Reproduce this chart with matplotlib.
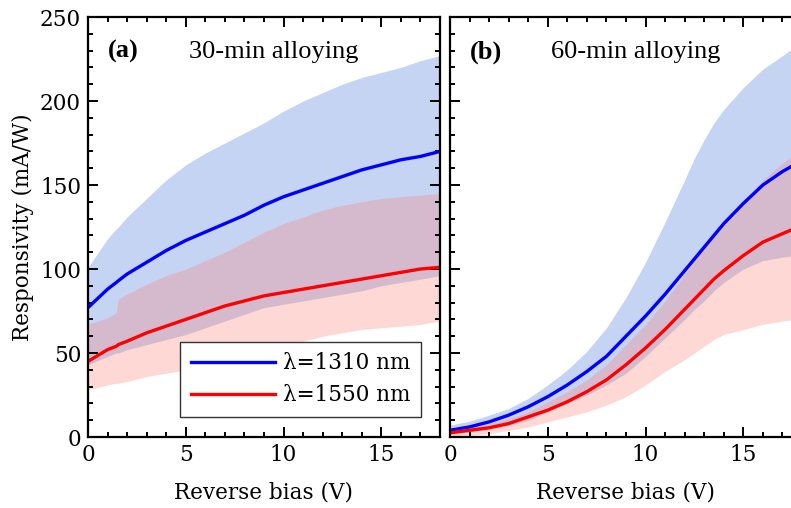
import numpy as np
import matplotlib
matplotlib.use("Agg")
import matplotlib.pyplot as plt
from matplotlib.ticker import MultipleLocator

# ---- data: panel (a) 30-min alloying ----
xa = [0, 1, 1.45, 1.55, 2, 3, 4, 5, 6, 7, 8, 9, 10, 11, 12, 13, 14, 15, 16, 17, 18]
a_blue =       [77, 88, 92, 93, 97, 104, 111, 117, 122, 127, 132, 138, 143, 147, 151, 155, 159, 162, 165, 167, 170]
a_blue_hi =    [101, 118, 124, 125, 131, 142, 153, 162, 169, 175, 181, 187, 194, 200, 205, 210, 214, 217, 220, 224, 227]
a_blue_lo =    [43, 48, 50, 50, 52, 55, 58, 61, 65, 69, 73, 77, 79, 81, 83, 85, 87, 90, 92, 94, 96]
a_red =        [45, 52, 54, 55, 57, 62, 66, 70, 74, 78, 81, 84, 86, 88, 90, 92, 94, 96, 98, 100, 101]
a_red_hi =     [67, 71, 74, 82, 85, 91, 96, 100, 105, 110, 116, 122, 127, 131, 135, 138, 140, 142, 143, 144, 145]
a_red_lo =     [28, 31, 32, 32, 33, 36, 38, 40, 43, 46, 49, 52, 55, 57, 60, 62, 64, 65, 66, 67, 69]

# ---- data: panel (b) 60-min alloying ----
xb = [0, 1, 2, 3, 4, 5, 6, 7, 8, 9, 10, 11, 12, 12.5, 13, 13.5, 14, 15, 16, 17, 17.6]
b_blue =       [4, 6, 9, 13, 18, 24, 31, 39, 48, 60, 72, 85, 99, 106, 113, 120, 127, 139, 150, 158, 162]
b_blue_hi =    [7, 9.5, 13, 17, 23, 31, 40, 51, 65, 83, 104, 128, 153, 166, 177, 187, 195, 208, 219, 227, 232]
b_blue_lo =    [2, 3, 5, 7, 10, 15, 20, 25, 31, 38, 48, 59, 70, 76, 81, 87, 92, 100, 105, 107, 108]
b_red =        [2.5, 4, 5.5, 8, 12, 16, 21, 27, 34, 43, 53, 64, 76, 82, 88, 94, 99, 108, 116, 121, 124]
b_red_hi =     [4, 5.5, 8, 11, 15, 21, 27, 34, 43, 55, 67, 81, 97, 105, 113, 120, 126, 139, 153, 163, 168]
b_red_lo =     [0, 1, 2, 4, 6, 9, 12, 15, 19, 24, 31, 39, 46, 50, 54, 58, 61, 64, 67, 69, 70]

labels = ["\u03bb=1310 nm", "\u03bb=1550 nm"]
titles = ["30-min alloying", "60-min alloying"]
tags = ["(a)", "(b)"]
xticks = [0, 5, 10, 15]
yticks = [0, 50, 100, 150, 200, 250]

W, H = 791, 508
fig = plt.figure(figsize=(W / 100, H / 100), dpi=100)
tickfont = "DejaVu Serif"
fs = 15.5

ax1 = fig.add_axes([88 / W, (H - 437) / H, 352 / W, 420 / H])
ax2 = fig.add_axes([450 / W, (H - 437) / H, 352 / W, 420 / H])

blue_fill = (0.25, 0.45, 0.85)
red_fill = (0.98, 0.50, 0.45)

def panel(ax, x, bl, bh, blo, rl, rh, rlo):
    ax.fill_between(x, blo, bh, color=blue_fill, alpha=0.3, lw=0)
    ax.fill_between(x, rlo, rh, color=red_fill, alpha=0.3, lw=0)
    l1, = ax.plot(x, bl, color="#0000ff", lw=2.4, label=labels[0])
    l2, = ax.plot(x, rl, color="#ff0000", lw=2.4, label=labels[1])
    ax.set_xlim(0, 18)
    ax.set_ylim(0, 250)
    ax.set_xticks(xticks)
    ax.set_yticks(yticks)
    ax.xaxis.set_minor_locator(MultipleLocator(1))
    ax.yaxis.set_minor_locator(MultipleLocator(10))
    ax.tick_params(which="both", direction="in", top=True, right=True, width=1.4)
    ax.tick_params(which="major", length=7, labelsize=fs, pad=5)
    ax.tick_params(which="minor", length=3.8)
    for s in ax.spines.values():
        s.set_linewidth(1.6)
    for t in ax.get_xticklabels() + ax.get_yticklabels():
        t.set_fontfamily(tickfont)
    ax.set_xlabel("Reverse bias (V)", fontsize=fs, family=tickfont, labelpad=11)
    return l1, l2

h = panel(ax1, xa, a_blue, a_blue_hi, a_blue_lo, a_red, a_red_hi, a_red_lo)
panel(ax2, xb, b_blue, b_blue_hi, b_blue_lo, b_red, b_red_hi, b_red_lo)
ax2.tick_params(labelleft=False)
ax1.set_ylabel("Responsivity (mA/W)", fontsize=fs, family=tickfont, labelpad=4)

for ax, tag, title in [(ax1, tags[0], titles[0]), (ax2, tags[1], titles[1])]:
    ax.text(0.057, 0.917, tag, transform=ax.transAxes, fontsize=19, fontweight="bold",
            family="Liberation Serif", va="center", ha="left")
    ax.text(0.287, 0.917, title, transform=ax.transAxes, fontsize=19,
            family="Liberation Serif", va="center", ha="left")

leg = ax1.legend(handles=list(h), loc="lower left", bbox_to_anchor=(0.261, 0.048),
                 borderaxespad=0, fancybox=False, framealpha=1, edgecolor="#333333",
                 prop={"family": tickfont, "size": fs}, handlelength=3.9,
                 handletextpad=0.4, borderpad=0.5, labelspacing=0.45)
leg.get_frame().set_linewidth(1.0)

fig.savefig("out.png", dpi=100)
